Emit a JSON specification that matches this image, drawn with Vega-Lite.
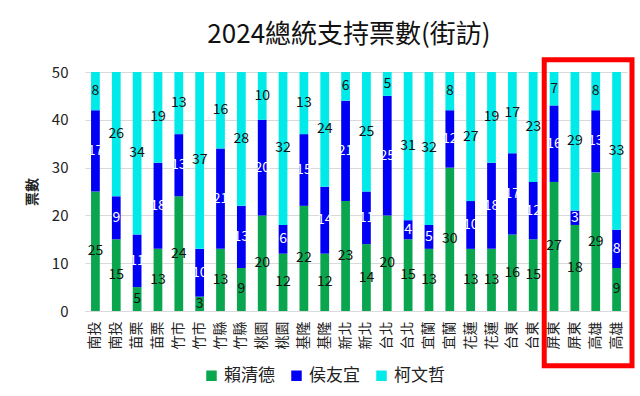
{
  "$schema": "https://vega.github.io/schema/vega-lite/v6.json",
  "width": 542,
  "height": 239,
  "autosize": "none",
  "padding": {"left": 85, "top": 72, "right": 13, "bottom": 85},
  "background": "white",
  "config": {
    "font": "Noto Sans CJK TC",
    "view": {"stroke": null}
  },
  "title": {
    "text": "2024總統支持票數(街訪)",
    "fontSize": 26,
    "fontWeight": "normal",
    "color": "#111111",
    "offset": 9,
    "dx": -7
  },
  "datasets": {
    "votes": [
      {"key":"南投_01","cand":"賴清德","value":25},{"key":"南投_01","cand":"侯友宜","value":17},{"key":"南投_01","cand":"柯文哲","value":8},
      {"key":"南投_02","cand":"賴清德","value":15},{"key":"南投_02","cand":"侯友宜","value":9},{"key":"南投_02","cand":"柯文哲","value":26},
      {"key":"苗栗_03","cand":"賴清德","value":5},{"key":"苗栗_03","cand":"侯友宜","value":11},{"key":"苗栗_03","cand":"柯文哲","value":34},
      {"key":"苗栗_04","cand":"賴清德","value":13},{"key":"苗栗_04","cand":"侯友宜","value":18},{"key":"苗栗_04","cand":"柯文哲","value":19},
      {"key":"竹市_05","cand":"賴清德","value":24},{"key":"竹市_05","cand":"侯友宜","value":13},{"key":"竹市_05","cand":"柯文哲","value":13},
      {"key":"竹市_06","cand":"賴清德","value":3},{"key":"竹市_06","cand":"侯友宜","value":10},{"key":"竹市_06","cand":"柯文哲","value":37},
      {"key":"竹縣_07","cand":"賴清德","value":13},{"key":"竹縣_07","cand":"侯友宜","value":21},{"key":"竹縣_07","cand":"柯文哲","value":16},
      {"key":"竹縣_08","cand":"賴清德","value":9},{"key":"竹縣_08","cand":"侯友宜","value":13},{"key":"竹縣_08","cand":"柯文哲","value":28},
      {"key":"桃園_09","cand":"賴清德","value":20},{"key":"桃園_09","cand":"侯友宜","value":20},{"key":"桃園_09","cand":"柯文哲","value":10},
      {"key":"桃園_10","cand":"賴清德","value":12},{"key":"桃園_10","cand":"侯友宜","value":6},{"key":"桃園_10","cand":"柯文哲","value":32},
      {"key":"基隆_11","cand":"賴清德","value":22},{"key":"基隆_11","cand":"侯友宜","value":15},{"key":"基隆_11","cand":"柯文哲","value":13},
      {"key":"基隆_12","cand":"賴清德","value":12},{"key":"基隆_12","cand":"侯友宜","value":14},{"key":"基隆_12","cand":"柯文哲","value":24},
      {"key":"新北_13","cand":"賴清德","value":23},{"key":"新北_13","cand":"侯友宜","value":21},{"key":"新北_13","cand":"柯文哲","value":6},
      {"key":"新北_14","cand":"賴清德","value":14},{"key":"新北_14","cand":"侯友宜","value":11},{"key":"新北_14","cand":"柯文哲","value":25},
      {"key":"台北_15","cand":"賴清德","value":20},{"key":"台北_15","cand":"侯友宜","value":25},{"key":"台北_15","cand":"柯文哲","value":5},
      {"key":"台北_16","cand":"賴清德","value":15},{"key":"台北_16","cand":"侯友宜","value":4},{"key":"台北_16","cand":"柯文哲","value":31},
      {"key":"宜蘭_17","cand":"賴清德","value":13},{"key":"宜蘭_17","cand":"侯友宜","value":5},{"key":"宜蘭_17","cand":"柯文哲","value":32},
      {"key":"宜蘭_18","cand":"賴清德","value":30},{"key":"宜蘭_18","cand":"侯友宜","value":12},{"key":"宜蘭_18","cand":"柯文哲","value":8},
      {"key":"花蓮_19","cand":"賴清德","value":13},{"key":"花蓮_19","cand":"侯友宜","value":10},{"key":"花蓮_19","cand":"柯文哲","value":27},
      {"key":"花蓮_20","cand":"賴清德","value":13},{"key":"花蓮_20","cand":"侯友宜","value":18},{"key":"花蓮_20","cand":"柯文哲","value":19},
      {"key":"台東_21","cand":"賴清德","value":16},{"key":"台東_21","cand":"侯友宜","value":17},{"key":"台東_21","cand":"柯文哲","value":17},
      {"key":"台東_22","cand":"賴清德","value":15},{"key":"台東_22","cand":"侯友宜","value":12},{"key":"台東_22","cand":"柯文哲","value":23},
      {"key":"屏東_23","cand":"賴清德","value":27},{"key":"屏東_23","cand":"侯友宜","value":16},{"key":"屏東_23","cand":"柯文哲","value":7},
      {"key":"屏東_24","cand":"賴清德","value":18},{"key":"屏東_24","cand":"侯友宜","value":3},{"key":"屏東_24","cand":"柯文哲","value":29},
      {"key":"高雄_25","cand":"賴清德","value":29},{"key":"高雄_25","cand":"侯友宜","value":13},{"key":"高雄_25","cand":"柯文哲","value":8},
      {"key":"高雄_26","cand":"賴清德","value":9},{"key":"高雄_26","cand":"侯友宜","value":8},{"key":"高雄_26","cand":"柯文哲","value":33}
    ]
  },
  "resolve": {"scale": {"x": "independent", "y": "independent"}},
  "layer": [
    {
      "data": {"name": "votes"},
      "transform": [
        {"calculate": "indexof(['賴清德','侯友宜','柯文哲'], datum.cand)", "as": "ord"},
        {"stack": "value", "groupby": ["key"], "sort": [{"field": "ord", "order": "ascending"}], "as": ["v0", "v1"]},
        {"calculate": "(datum.v0 + datum.v1) / 2", "as": "mid"}
      ],
      "encoding": {
        "x": {
          "field": "key",
          "type": "nominal",
          "sort": null,
          "scale": {"paddingInner": 0.58, "paddingOuter": 0.29},
          "axis": {
            "title": null,
            "labelExpr": "split(datum.value, '_')[0]",
            "labelAngle": -90,
            "labelFontSize": 14,
            "labelColor": "#222222",
            "labelPadding": 10,
            "ticks": false,
            "domain": true,
            "domainColor": "#d9d9d9",
            "grid": false
          }
        }
      },
      "layer": [
        {
          "mark": {"type": "bar"},
          "encoding": {
            "y": {
              "field": "v0",
              "type": "quantitative",
              "scale": {"domain": [0, 50], "nice": false},
              "axis": {
                "title": "票數",
                "titleFontSize": 14,
                "titleColor": "#222222",
                "titlePadding": 12,
                "values": [0, 10, 20, 30, 40, 50],
                "labelFontSize": 15,
                "labelColor": "#222222",
                "labelPadding": 17,
                "ticks": false,
                "domain": false,
                "gridColor": "#d9d9d9"
              }
            },
            "y2": {"field": "v1"},
            "color": {
              "field": "cand",
              "type": "nominal",
              "scale": {"domain": ["賴清德", "侯友宜", "柯文哲"], "range": ["#0AA64F", "#0000F5", "#00EAEA"]},
              "legend": {
                "title": null,
                "orient": "none",
                "direction": "horizontal",
                "legendX": 118,
                "legendY": 295,
                "symbolType": "square",
                "symbolSize": 110,
                "symbolStrokeWidth": 0,
                "labelFontSize": 17,
                "labelColor": "#222222",
                "columnPadding": 13,
                "labelOffset": 4
              }
            }
          }
        },
        {
          "mark": {"type": "text", "fontSize": 14, "align": "center", "baseline": "middle"},
          "encoding": {
            "y": {"field": "mid", "type": "quantitative"},
            "text": {"field": "value", "type": "quantitative"},
            "color": {
              "condition": {"test": "datum.cand === '侯友宜'", "value": "white"},
              "value": "#111111"
            }
          }
        }
      ]
    },
    {
      "data": {"values": [{"xa": 22.03, "xb": 26.24, "ya": -11.46, "yb": 52.55}]},
      "mark": {"type": "rect", "filled": false, "stroke": "#FF0000", "strokeWidth": 5, "clip": false},
      "encoding": {
        "x": {"field": "xa", "type": "quantitative", "scale": {"domain": [0, 26], "nice": false, "zero": false}, "axis": null},
        "x2": {"field": "xb"},
        "y": {"field": "ya", "type": "quantitative", "scale": {"domain": [0, 50], "nice": false, "zero": false}, "axis": null},
        "y2": {"field": "yb"}
      }
    }
  ]
}
